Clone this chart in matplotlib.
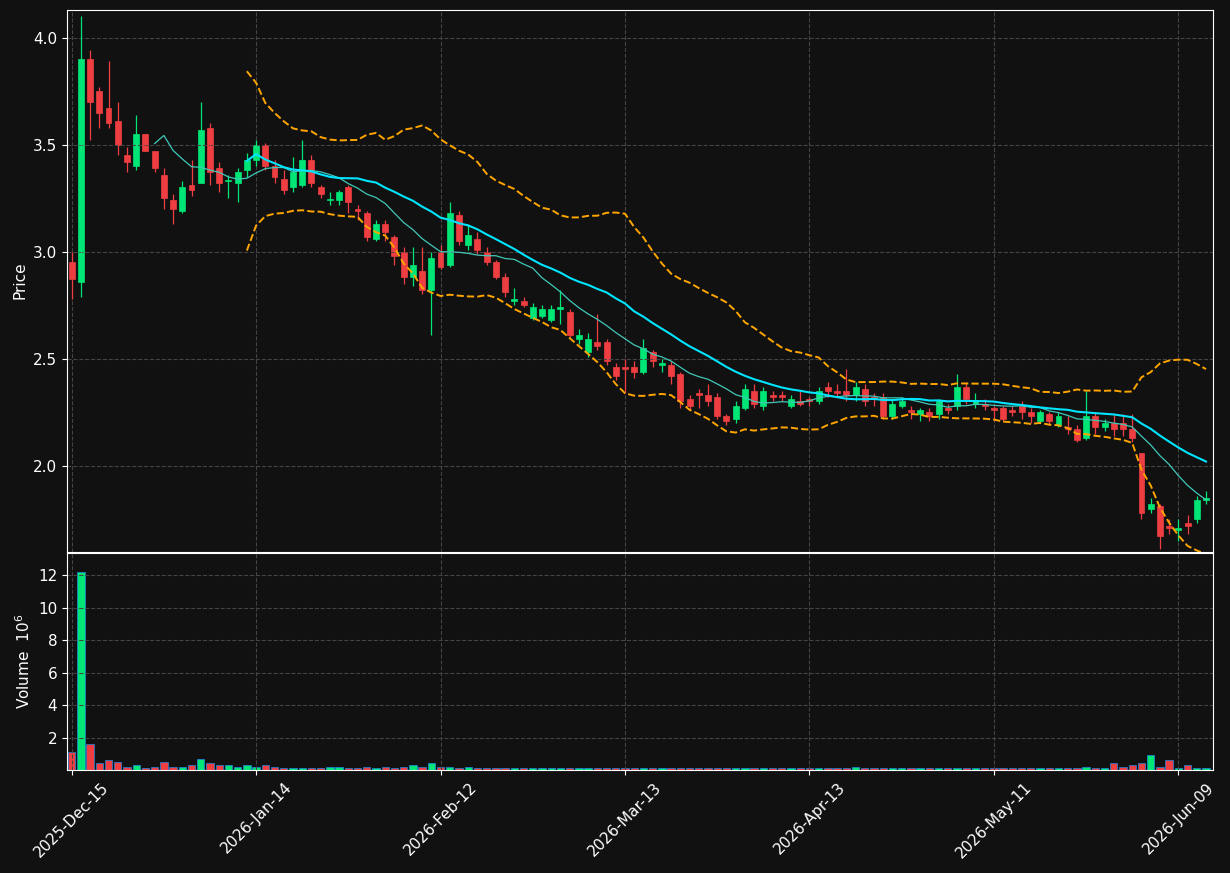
import pandas as pd
import numpy as np
import matplotlib.pyplot as plt
from matplotlib.patches import Rectangle

holidays = ["2025-12-25", "2026-01-01", "2026-01-19", "2026-02-16", "2026-04-03", "2026-05-25"]
dates = [d for d in pd.bdate_range("2025-12-15", "2026-06-12") if d.strftime("%Y-%m-%d") not in holidays]

opens = [2.95, 2.86, 3.90, 3.75, 3.67, 3.61, 3.45, 3.40, 3.55, 3.47, 3.36, 3.24, 3.19, 3.31, 3.32, 3.58,
         3.39, 3.33, 3.32, 3.38, 3.43, 3.50, 3.40, 3.34, 3.30, 3.31, 3.43, 3.30, 3.24, 3.24, 3.30, 3.20,
         3.18, 3.06, 3.13, 3.07, 3.00, 2.88, 2.91, 2.82, 3.00, 2.94, 3.17, 3.03, 3.06, 3.00, 2.95, 2.88,
         2.77, 2.77, 2.69, 2.70, 2.68, 2.73, 2.72, 2.59, 2.53, 2.58, 2.58, 2.46, 2.46, 2.46, 2.44, 2.53,
         2.47, 2.47, 2.43, 2.31, 2.34, 2.33, 2.32, 2.23, 2.22, 2.27, 2.35, 2.28, 2.33, 2.33, 2.28, 2.30,
         2.31, 2.30, 2.37, 2.35, 2.35, 2.33, 2.36, 2.32, 2.32, 2.23, 2.28, 2.26, 2.24, 2.25, 2.24, 2.27,
         2.28, 2.37, 2.29, 2.29, 2.27, 2.27, 2.26, 2.28, 2.25, 2.21, 2.24, 2.19, 2.18, 2.17, 2.13, 2.23,
         2.18, 2.20, 2.20, 2.17, 2.06, 1.80, 1.81, 1.72, 1.70, 1.73, 1.75, 1.84]
closes = [2.87, 3.90, 3.70, 3.65, 3.60, 3.50, 3.42, 3.55, 3.47, 3.39, 3.25, 3.20, 3.30, 3.29, 3.57, 3.37,
          3.32, 3.33, 3.37, 3.43, 3.50, 3.40, 3.35, 3.29, 3.37, 3.43, 3.32, 3.27, 3.24, 3.28, 3.23, 3.19,
          3.07, 3.13, 3.09, 2.98, 2.88, 2.94, 2.82, 2.97, 2.93, 3.18, 3.05, 3.08, 3.01, 2.95, 2.88, 2.81,
          2.78, 2.75, 2.74, 2.73, 2.73, 2.74, 2.61, 2.61, 2.59, 2.56, 2.49, 2.42, 2.45, 2.44, 2.55, 2.49,
          2.48, 2.42, 2.30, 2.28, 2.33, 2.30, 2.23, 2.21, 2.28, 2.36, 2.29, 2.35, 2.32, 2.32, 2.31, 2.29,
          2.30, 2.35, 2.35, 2.34, 2.33, 2.37, 2.30, 2.31, 2.23, 2.29, 2.30, 2.25, 2.26, 2.23, 2.30, 2.26,
          2.37, 2.31, 2.30, 2.28, 2.26, 2.22, 2.25, 2.25, 2.23, 2.25, 2.21, 2.23, 2.17, 2.12, 2.23, 2.18,
          2.20, 2.17, 2.17, 2.13, 1.78, 1.82, 1.67, 1.71, 1.71, 1.72, 1.84, 1.85]
highs = [3.00, 4.10, 3.94, 3.77, 3.89, 3.70, 3.49, 3.64, 3.55, 3.47, 3.39, 3.27, 3.33, 3.43, 3.70, 3.60,
         3.42, 3.36, 3.39, 3.46, 3.52, 3.51, 3.43, 3.38, 3.44, 3.52, 3.45, 3.31, 3.28, 3.29, 3.31, 3.22,
         3.19, 3.15, 3.15, 3.08, 3.02, 3.02, 3.02, 3.00, 3.03, 3.23, 3.19, 3.13, 3.09, 3.02, 2.96, 2.90,
         2.83, 2.79, 2.76, 2.75, 2.75, 2.82, 2.73, 2.64, 2.62, 2.71, 2.59, 2.48, 2.50, 2.49, 2.59, 2.54,
         2.50, 2.49, 2.44, 2.33, 2.36, 2.38, 2.34, 2.24, 2.30, 2.38, 2.38, 2.37, 2.35, 2.35, 2.33, 2.35,
         2.32, 2.37, 2.39, 2.38, 2.45, 2.39, 2.38, 2.34, 2.34, 2.31, 2.32, 2.28, 2.27, 2.27, 2.31, 2.29,
         2.43, 2.39, 2.34, 2.31, 2.28, 2.28, 2.28, 2.30, 2.27, 2.26, 2.25, 2.25, 2.23, 2.19, 2.35, 2.25,
         2.22, 2.24, 2.24, 2.24, 2.06, 1.85, 1.82, 1.75, 1.75, 1.77, 1.86, 1.88]
lows = [2.78, 2.79, 3.52, 3.58, 3.58, 3.45, 3.37, 3.38, 3.47, 3.37, 3.20, 3.13, 3.18, 3.26, 3.32, 3.31,
        3.28, 3.25, 3.23, 3.35, 3.40, 3.38, 3.32, 3.27, 3.28, 3.30, 3.30, 3.25, 3.22, 3.22, 3.18, 3.15,
        3.05, 3.05, 3.05, 2.94, 2.85, 2.84, 2.80, 2.61, 2.92, 2.93, 3.03, 3.01, 2.99, 2.94, 2.87, 2.79,
        2.75, 2.74, 2.68, 2.69, 2.67, 2.66, 2.60, 2.57, 2.51, 2.54, 2.47, 2.40, 2.34, 2.41, 2.43, 2.46,
        2.44, 2.38, 2.27, 2.26, 2.27, 2.28, 2.22, 2.19, 2.20, 2.26, 2.27, 2.26, 2.30, 2.30, 2.27, 2.28,
        2.28, 2.29, 2.32, 2.32, 2.30, 2.30, 2.28, 2.28, 2.22, 2.22, 2.27, 2.22, 2.21, 2.21, 2.22, 2.24,
        2.26, 2.29, 2.27, 2.26, 2.21, 2.21, 2.23, 2.22, 2.20, 2.20, 2.19, 2.18, 2.15, 2.11, 2.12, 2.15,
        2.16, 2.14, 2.14, 2.11, 1.75, 1.78, 1.61, 1.68, 1.65, 1.68, 1.73, 1.82]
volumes = [1.1, 12.2, 1.6, 0.4, 0.6, 0.5, 0.2, 0.3, 0.1, 0.2, 0.5, 0.2, 0.2, 0.3, 0.7, 0.4,
           0.3, 0.3, 0.2, 0.3, 0.2, 0.3, 0.2, 0.1, 0.1, 0.1, 0.1, 0.1, 0.2, 0.2, 0.1, 0.1,
           0.2, 0.1, 0.2, 0.1, 0.2, 0.3, 0.2, 0.4, 0.2, 0.2, 0.1, 0.2, 0.1, 0.1, 0.1, 0.1,
           0.1, 0.1, 0.1, 0.1, 0.1, 0.1, 0.1, 0.1, 0.1, 0.1, 0.1, 0.1, 0.1, 0.1, 0.1, 0.1,
           0.1, 0.1, 0.1, 0.1, 0.1, 0.1, 0.1, 0.1, 0.1, 0.1, 0.1, 0.1, 0.1, 0.1, 0.1, 0.1,
           0.1, 0.1, 0.1, 0.1, 0.1, 0.2, 0.1, 0.1, 0.1, 0.1, 0.1, 0.1, 0.1, 0.1, 0.1, 0.1,
           0.1, 0.1, 0.1, 0.1, 0.1, 0.1, 0.1, 0.1, 0.1, 0.1, 0.1, 0.1, 0.1, 0.1, 0.2, 0.1,
           0.1, 0.4, 0.2, 0.3, 0.4, 0.9, 0.2, 0.6, 0.1, 0.3, 0.1, 0.1]

df = pd.DataFrame({"Open": opens, "High": highs, "Low": lows, "Close": closes, "Volume": volumes},
                  index=dates)
df["ma10"] = df["Close"].rolling(10).mean()
df["ma20"] = df["Close"].rolling(20).mean()
std20 = df["Close"].rolling(20).std(ddof=0)
df["bb_up"] = df["ma20"] + 2 * std20
df["bb_lo"] = df["ma20"] - 2 * std20

bg = "#111111"
up_c, down_c = "#00e676", "#ef3e42"
x = np.arange(len(df))

fig = plt.figure(figsize=(12.3, 8.73), dpi=100, facecolor=bg)
ax1 = fig.add_axes([0.0545, 0.368, 0.932, 0.621], facecolor=bg)
ax2 = fig.add_axes([0.0545, 0.118, 0.932, 0.249], facecolor=bg, sharex=ax1)

for i, row in enumerate(df.itertuples()):
    c = up_c if row.Close >= row.Open else down_c
    ax1.vlines(i, row.Low, row.High, color=c, linewidth=0.9)
    lo, hi = min(row.Open, row.Close), max(row.Open, row.Close)
    ax1.add_patch(Rectangle((i - 0.32, lo), 0.64, max(hi - lo, 0.004), facecolor=c, edgecolor=c, linewidth=0.5))
    ax2.bar(i, row.Volume, width=0.8, color=c, edgecolor="#1e88e5", linewidth=0.5)

ax1.plot(x, df["ma10"], color="#3fc8b8", linewidth=0.9)
ax1.plot(x, df["ma20"], color="#00e5ff", linewidth=1.5)
ax1.plot(x, df["bb_up"], color="#ffa500", linewidth=1.4, linestyle="--")
ax1.plot(x, df["bb_lo"], color="#ffa500", linewidth=1.4, linestyle="--")

ax1.set_ylim(1.598, 4.131)
ax1.set_yticks([2.0, 2.5, 3.0, 3.5, 4.0])
ax1.set_xlim(-0.5, len(df) - 0.2)
ax2.set_ylim(0, 13.4)
ax2.set_yticks([2, 4, 6, 8, 10, 12])

for ax in (ax1, ax2):
    ax.grid(True, color="#444444", linestyle="--", linewidth=0.8)
    ax.tick_params(colors="white", labelsize=11)
    for s in ax.spines.values():
        s.set_color("white")
ax1.tick_params(labelbottom=False)
ax1.set_ylabel("Price", color="white", fontsize=11)
ax2.set_ylabel("Volume  $10^6$", color="white", fontsize=11)

ticks = list(range(0, len(df), 20))
ax2.set_xticks(ticks)
ax2.set_xticklabels([dates[t].strftime("%Y-%b-%d") for t in ticks], rotation=45, ha="center")

fig.savefig("out.png", dpi=100, facecolor=bg)
